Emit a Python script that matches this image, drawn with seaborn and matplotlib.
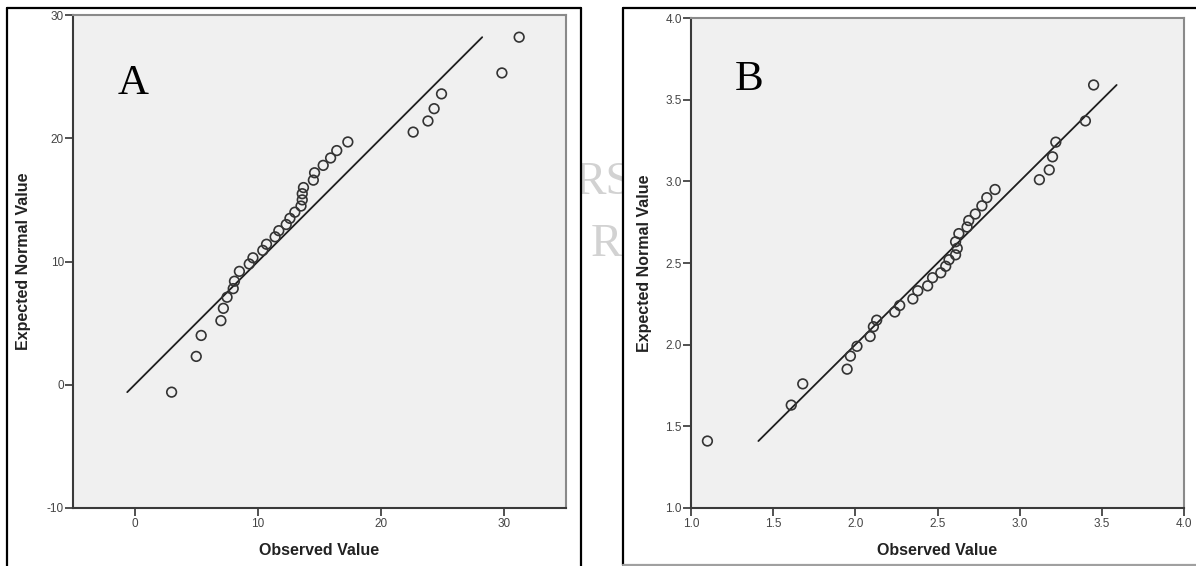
import matplotlib
matplotlib.use("Agg")
import matplotlib.pyplot as plt
from matplotlib.lines import Line2D
from matplotlib.patches import Rectangle
import seaborn as sns
import pandas as pd

W, H = 1196, 566

# Panel A: observed vs expected normal value
obs_a = [3.0, 5.0, 5.4, 7.0, 7.2, 7.5, 8.0, 8.1, 8.5, 9.3, 9.6, 10.4, 10.7, 11.4,
         11.7, 12.3, 12.6, 13.0, 13.5, 13.6, 13.6, 13.7, 14.5, 14.6, 15.3, 15.9,
         16.4, 17.3, 22.6, 23.8, 24.3, 24.9, 29.8, 31.2]
exp_a = [-0.6, 2.3, 4.0, 5.2, 6.2, 7.1, 7.8, 8.4, 9.2, 9.8, 10.3, 10.9, 11.4, 12.0,
         12.5, 13.0, 13.5, 14.0, 14.5, 15.0, 15.5, 16.0, 16.6, 17.2, 17.8, 18.4,
         19.0, 19.7, 20.5, 21.4, 22.4, 23.6, 25.3, 28.2]

# Panel B: log-transformed values
obs_b = [1.10, 1.61, 1.68, 1.95, 1.97, 2.01, 2.09, 2.11, 2.13, 2.24, 2.27, 2.35,
         2.38, 2.44, 2.47, 2.52, 2.55, 2.57, 2.61, 2.62, 2.61, 2.63, 2.68, 2.69,
         2.73, 2.77, 2.80, 2.85, 3.12, 3.18, 3.20, 3.22, 3.40, 3.45]
exp_b = [1.41, 1.63, 1.76, 1.85, 1.93, 1.99, 2.05, 2.11, 2.15, 2.20, 2.24, 2.28,
         2.33, 2.36, 2.41, 2.44, 2.48, 2.52, 2.55, 2.59, 2.63, 2.68, 2.72, 2.76,
         2.80, 2.85, 2.90, 2.95, 3.01, 3.07, 3.15, 3.24, 3.37, 3.59]

ticks_ax = [0, 10, 20, 30]
ticks_ay = [-10, 0, 10, 20, 30]
ticks_bx = [1.0, 1.5, 2.0, 2.5, 3.0, 3.5, 4.0]
ticks_by = [1.0, 1.5, 2.0, 2.5, 3.0, 3.5, 4.0]

sns.set_theme(style="ticks")
plt.rcParams["font.family"] = ["Liberation Sans", "DejaVu Sans"]

fig = plt.figure(figsize=(W / 100, H / 100), dpi=100)


def fx(px):
    return px / W


def fy(py):
    return 1 - py / H


# faint page watermark behind the frames
for txt, x, y in [("RS", 603, 183), ("R", 606, 245)]:
    fig.text(fx(x), fy(y), txt, ha="center", va="center", fontsize=34,
             family="Liberation Serif", color="#d2d2d2", zorder=-3)

# white boxes round each panel
fig.add_artist(Rectangle((fx(7), 0), fx(581) - fx(7), fy(8), transform=fig.transFigure,
                         facecolor="white", edgecolor="none", zorder=-2))
fig.add_artist(Rectangle((fx(623), fy(565)), 1 - fx(623), fy(8) - fy(565),
                         transform=fig.transFigure, facecolor="white",
                         edgecolor="none", zorder=-2))
frame = [((7, 7), (8, 570), "black"), ((7, 581), (8, 8), "black"),
         ((581, 581), (8, 570), "black"), ((623, 623), (8, 565), "black"),
         ((623, 1200), (8, 8), "black"), ((623, 1200), (565, 565), "#a0a0a0")]
for xs, ys, c in frame:
    fig.add_artist(Line2D([fx(xs[0]), fx(xs[1])], [fy(ys[0]), fy(ys[1])],
                          transform=fig.transFigure, color=c, lw=1.6, zorder=-1))


def draw_panel(ax, obs, exp, xlim, ylim, xticks, yticks, fmt, letter, lpos, ylab_x):
    ax.set_facecolor("#f0f0f0")
    df = pd.DataFrame({"obs": obs, "exp": exp})
    lo, hi = min(exp), max(exp)
    sns.lineplot(x=[lo, hi], y=[lo, hi], ax=ax, color="#1e1e1e", lw=1.3)
    sns.scatterplot(data=df, x="obs", y="exp", ax=ax, marker="o", s=48,
                    facecolor="none", edgecolor="#333333", linewidth=1.2, zorder=3)
    ax.set_xlim(*xlim)
    ax.set_ylim(*ylim)
    ax.set_xticks(xticks)
    ax.set_yticks(yticks)
    ax.set_xticklabels([fmt.format(t) for t in xticks])
    ax.set_yticklabels([fmt.format(t) for t in yticks])
    ax.tick_params(axis="both", direction="out", length=6, width=1.2,
                   color="#333333", labelsize=8.5, labelcolor="#444444")
    ax.tick_params(axis="y", pad=0.5)
    ax.tick_params(axis="x", pad=1.5)
    for side in ["left", "bottom"]:
        ax.spines[side].set_color("#3a3a3a")
        ax.spines[side].set_linewidth(1.5)
    for side in ["top", "right"]:
        ax.spines[side].set_visible(True)
        ax.spines[side].set_color("#8a8a8a")
        ax.spines[side].set_linewidth(1.5)
    ax.set_xlabel("Observed Value", fontsize=11.5, fontweight="bold", color="#222222")
    ax.set_ylabel("Expected Normal Value", fontsize=11.5, fontweight="bold",
                  color="#222222")
    ax.xaxis.set_label_coords(0.5, -0.072)
    ax.yaxis.set_label_coords(ylab_x, 0.5)
    ax.text(lpos[0], lpos[1], letter, transform=ax.transAxes, fontsize=31,
            family="Liberation Serif", color="black", ha="left", va="baseline")


ax_a = fig.add_axes([fx(73), fy(508), fx(566) - fx(73), fy(15) - fy(508)])
ax_b = fig.add_axes([fx(691), fy(508), fx(1184) - fx(691), fy(18) - fy(508)])

draw_panel(ax_a, obs_a, exp_a, (-5, 35), (-10, 30), ticks_ax, ticks_ay, "{:g}",
           "A", (0.091, 0.84), -0.085)
draw_panel(ax_b, obs_b, exp_b, (1.0, 4.0), (1.0, 4.0), ticks_bx, ticks_by, "{:.1f}",
           "B", (0.089, 0.853), -0.079)

fig.savefig("out.png", dpi=100)
